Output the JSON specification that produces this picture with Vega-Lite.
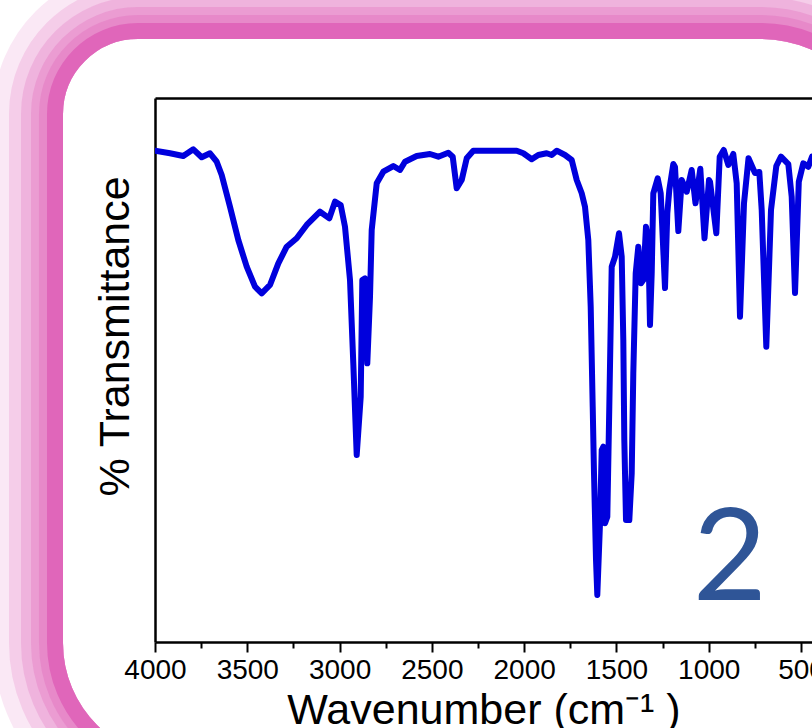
{
  "$schema": "https://vega.github.io/schema/vega-lite/v6.json",
  "width": 657,
  "height": 544,
  "autosize": "none",
  "padding": {"left": 155, "top": 98, "right": 0, "bottom": 86},
  "background": "white",
  "config": {"view": {"stroke": null}},
  "resolve": {"axis": {"x": "independent", "y": "independent"}},
  "layer": [
    {
      "data": {"values": [{}]},
      "mark": {"type": "rect", "filled": false, "stroke": "#E066BA", "strokeWidth": 70, "strokeOpacity": 0.15, "cornerRadiusTopLeft": 110, "cornerRadiusTopRight": 163, "cornerRadiusBottomLeft": 151, "cornerRadiusBottomRight": 135},
      "encoding": {
        "x": {"datum": 4688.1, "type": "quantitative", "scale": {"domain": [4000, 440.4], "nice": false, "zero": false}, "axis": null},
        "x2": {"datum": -161.0},
        "y": {"datum": 117.34, "type": "quantitative", "scale": {"domain": [-0.37, 100], "nice": false, "zero": false}, "axis": null},
        "y2": {"datum": -28.41}
      }
    },
    {
      "data": {"values": [{}]},
      "mark": {"type": "rect", "filled": false, "stroke": "#E066BA", "strokeWidth": 54, "strokeOpacity": 0.2, "cornerRadiusTopLeft": 102, "cornerRadiusTopRight": 155, "cornerRadiusBottomLeft": 143, "cornerRadiusBottomRight": 127},
      "encoding": {
        "x": {"datum": 4644.7, "type": "quantitative", "scale": {"domain": [4000, 440.4], "nice": false, "zero": false}, "axis": null},
        "x2": {"datum": -117.7},
        "y": {"datum": 115.87, "type": "quantitative", "scale": {"domain": [-0.37, 100], "nice": false, "zero": false}, "axis": null},
        "y2": {"datum": -26.94}
      }
    },
    {
      "data": {"values": [{}]},
      "mark": {"type": "rect", "filled": false, "stroke": "#E066BA", "strokeWidth": 42, "strokeOpacity": 0.25, "cornerRadiusTopLeft": 96, "cornerRadiusTopRight": 149, "cornerRadiusBottomLeft": 137, "cornerRadiusBottomRight": 121},
      "encoding": {
        "x": {"datum": 4612.2, "type": "quantitative", "scale": {"domain": [4000, 440.4], "nice": false, "zero": false}, "axis": null},
        "x2": {"datum": -85.2},
        "y": {"datum": 114.76, "type": "quantitative", "scale": {"domain": [-0.37, 100], "nice": false, "zero": false}, "axis": null},
        "y2": {"datum": -25.83}
      }
    },
    {
      "data": {"values": [{}]},
      "mark": {"type": "rect", "filled": false, "stroke": "#E066BA", "strokeWidth": 32, "strokeOpacity": 0.3, "cornerRadiusTopLeft": 91, "cornerRadiusTopRight": 144, "cornerRadiusBottomLeft": 132, "cornerRadiusBottomRight": 116},
      "encoding": {
        "x": {"datum": 4585.1, "type": "quantitative", "scale": {"domain": [4000, 440.4], "nice": false, "zero": false}, "axis": null},
        "x2": {"datum": -58.1},
        "y": {"datum": 113.84, "type": "quantitative", "scale": {"domain": [-0.37, 100], "nice": false, "zero": false}, "axis": null},
        "y2": {"datum": -24.91}
      }
    },
    {
      "data": {"values": [{}]},
      "mark": {"type": "rect", "filled": false, "stroke": "#E066BA", "strokeWidth": 24, "strokeOpacity": 0.35, "cornerRadiusTopLeft": 87, "cornerRadiusTopRight": 140, "cornerRadiusBottomLeft": 128, "cornerRadiusBottomRight": 112},
      "encoding": {
        "x": {"datum": 4563.5, "type": "quantitative", "scale": {"domain": [4000, 440.4], "nice": false, "zero": false}, "axis": null},
        "x2": {"datum": -36.4},
        "y": {"datum": 113.10, "type": "quantitative", "scale": {"domain": [-0.37, 100], "nice": false, "zero": false}, "axis": null},
        "y2": {"datum": -24.17}
      }
    },
    {
      "data": {"values": [{}]},
      "mark": {"type": "rect", "filled": false, "stroke": "#E066BA", "strokeWidth": 16, "strokeOpacity": 1, "cornerRadiusTopLeft": 83, "cornerRadiusTopRight": 136, "cornerRadiusBottomLeft": 124, "cornerRadiusBottomRight": 108},
      "encoding": {
        "x": {"datum": 4541.8, "type": "quantitative", "scale": {"domain": [4000, 440.4], "nice": false, "zero": false},
          "axis": {"orient": "top", "domain": true, "domainColor": "black", "domainWidth": 2.5, "ticks": false, "labels": false, "grid": false, "title": null}},
        "x2": {"datum": -14.7},
        "y": {"datum": 112.36, "type": "quantitative", "scale": {"domain": [-0.37, 100], "nice": false, "zero": false}, "axis": null},
        "y2": {"datum": -23.43}
      }
    },
    {
      "data": {"values": [
        {"wavenumber": 4000, "T": 90.28}, {"wavenumber": 3918.7, "T": 89.8}, {"wavenumber": 3846.7, "T": 89.3},
        {"wavenumber": 3792.5, "T": 90.53}, {"wavenumber": 3747.0, "T": 89.06}, {"wavenumber": 3702.0, "T": 89.8},
        {"wavenumber": 3665.7, "T": 88.25}, {"wavenumber": 3638.6, "T": 85.79}, {"wavenumber": 3593.7, "T": 79.94},
        {"wavenumber": 3548.7, "T": 73.8}, {"wavenumber": 3503.2, "T": 68.87}, {"wavenumber": 3458.2, "T": 65.18},
        {"wavenumber": 3421.9, "T": 63.97}, {"wavenumber": 3376.9, "T": 65.5}, {"wavenumber": 3331.9, "T": 69.5},
        {"wavenumber": 3286.4, "T": 72.56}, {"wavenumber": 3232.3, "T": 74.11}, {"wavenumber": 3178.1, "T": 76.57},
        {"wavenumber": 3106.0, "T": 79.02}, {"wavenumber": 3055.6, "T": 77.8}, {"wavenumber": 3024.8, "T": 80.87},
        {"wavenumber": 2993.9, "T": 80.26}, {"wavenumber": 2970.6, "T": 76.25}, {"wavenumber": 2943.5, "T": 66.42},
        {"wavenumber": 2925.6, "T": 51.05}, {"wavenumber": 2907.2, "T": 34.13}, {"wavenumber": 2885.5, "T": 44.89},
        {"wavenumber": 2876.8, "T": 66.42}, {"wavenumber": 2862.2, "T": 66.73}, {"wavenumber": 2849.8, "T": 51.05},
        {"wavenumber": 2835.1, "T": 63.34}, {"wavenumber": 2825.9, "T": 75.65}, {"wavenumber": 2798.8, "T": 84.26},
        {"wavenumber": 2763.1, "T": 86.4}, {"wavenumber": 2708.9, "T": 87.45}, {"wavenumber": 2672.6, "T": 86.72},
        {"wavenumber": 2645.5, "T": 88.25}, {"wavenumber": 2582.1, "T": 89.3}, {"wavenumber": 2510.1, "T": 89.67},
        {"wavenumber": 2465.1, "T": 89.17}, {"wavenumber": 2410.9, "T": 89.91}, {"wavenumber": 2387.1, "T": 89.17},
        {"wavenumber": 2365.4, "T": 83.34}, {"wavenumber": 2338.3, "T": 84.87}, {"wavenumber": 2311.2, "T": 88.87},
        {"wavenumber": 2275.5, "T": 90.28}, {"wavenumber": 2184.9, "T": 90.28}, {"wavenumber": 2040.3, "T": 90.28},
        {"wavenumber": 2004.5, "T": 89.8}, {"wavenumber": 1959.0, "T": 88.69}, {"wavenumber": 1923.3, "T": 89.48},
        {"wavenumber": 1877.8, "T": 89.8}, {"wavenumber": 1850.7, "T": 89.48}, {"wavenumber": 1823.6, "T": 90.28},
        {"wavenumber": 1778.6, "T": 89.48}, {"wavenumber": 1742.3, "T": 88.56}, {"wavenumber": 1715.2, "T": 84.87},
        {"wavenumber": 1688.1, "T": 82.42}, {"wavenumber": 1670.3, "T": 79.94}, {"wavenumber": 1652.4, "T": 73.8},
        {"wavenumber": 1639.4, "T": 61.49}, {"wavenumber": 1628.5, "T": 43.04}, {"wavenumber": 1621.5, "T": 30.76},
        {"wavenumber": 1610.6, "T": 14.76}, {"wavenumber": 1603.6, "T": 8.3}, {"wavenumber": 1589.0, "T": 21.53},
        {"wavenumber": 1579.8, "T": 35.06}, {"wavenumber": 1571.1, "T": 35.66}, {"wavenumber": 1561.9, "T": 21.53},
        {"wavenumber": 1549.4, "T": 22.75}, {"wavenumber": 1538.6, "T": 43.04}, {"wavenumber": 1525.6, "T": 68.87},
        {"wavenumber": 1507.7, "T": 70.72}, {"wavenumber": 1486.0, "T": 75.04}, {"wavenumber": 1471.4, "T": 70.72},
        {"wavenumber": 1462.7, "T": 55.35}, {"wavenumber": 1457.3, "T": 36.9}, {"wavenumber": 1448.1, "T": 22.14},
        {"wavenumber": 1430.2, "T": 22.14}, {"wavenumber": 1417.2, "T": 30.76}, {"wavenumber": 1408.6, "T": 49.21},
        {"wavenumber": 1395.6, "T": 67.66}, {"wavenumber": 1381.5, "T": 72.56}, {"wavenumber": 1366.9, "T": 65.81},
        {"wavenumber": 1354.4, "T": 66.42}, {"wavenumber": 1339.8, "T": 76.25}, {"wavenumber": 1327.3, "T": 73.8},
        {"wavenumber": 1318.1, "T": 58.12}, {"wavenumber": 1308.9, "T": 67.66}, {"wavenumber": 1300.2, "T": 82.42},
        {"wavenumber": 1276.4, "T": 85.18}, {"wavenumber": 1260.1, "T": 82.42}, {"wavenumber": 1236.8, "T": 64.94},
        {"wavenumber": 1224.3, "T": 78.73}, {"wavenumber": 1213.5, "T": 83.03}, {"wavenumber": 1191.8, "T": 87.82},
        {"wavenumber": 1182.6, "T": 87.27}, {"wavenumber": 1164.7, "T": 75.46}, {"wavenumber": 1146.3, "T": 84.87},
        {"wavenumber": 1119.2, "T": 82.71}, {"wavenumber": 1092.1, "T": 86.72}, {"wavenumber": 1071.6, "T": 80.57},
        {"wavenumber": 1045.5, "T": 86.94}, {"wavenumber": 1022.8, "T": 74.11}, {"wavenumber": 998.4, "T": 84.87},
        {"wavenumber": 993.0, "T": 84.56}, {"wavenumber": 958.8, "T": 75.04}, {"wavenumber": 940.4, "T": 89.17},
        {"wavenumber": 918.8, "T": 90.41}, {"wavenumber": 893.9, "T": 87.64}, {"wavenumber": 866.8, "T": 89.67},
        {"wavenumber": 848.4, "T": 84.26}, {"wavenumber": 830.5, "T": 59.65}, {"wavenumber": 808.8, "T": 80.57},
        {"wavenumber": 784.4, "T": 88.87}, {"wavenumber": 749.2, "T": 86.16}, {"wavenumber": 725.9, "T": 86.35},
        {"wavenumber": 712.9, "T": 79.34}, {"wavenumber": 688.0, "T": 54.11}, {"wavenumber": 662.5, "T": 79.34},
        {"wavenumber": 633.8, "T": 87.45}, {"wavenumber": 608.3, "T": 89.17}, {"wavenumber": 568.8, "T": 87.82},
        {"wavenumber": 550.4, "T": 81.79}, {"wavenumber": 532.4, "T": 64.02}, {"wavenumber": 511.9, "T": 84.56},
        {"wavenumber": 487.5, "T": 87.95}, {"wavenumber": 460.4, "T": 87.32}, {"wavenumber": 440.4, "T": 89.17}
      ]},
      "mark": {"type": "line", "color": "#0000DD", "strokeWidth": 6, "strokeJoin": "round", "strokeCap": "round", "clip": true},
      "encoding": {
        "x": {"field": "wavenumber", "type": "quantitative", "scale": {"domain": [4000, 440.4], "nice": false, "zero": false},
          "axis": {"orient": "bottom", "values": [4000, 3500, 3000, 2500, 2000, 1500, 1000, 500], "format": "d",
            "tickSize": 10, "tickWidth": 2, "tickColor": "black", "domainColor": "black", "domainWidth": 2.5,
            "labelFont": "Liberation Sans", "labelFontSize": 28, "labelColor": "black", "labelPadding": 4,
            "labelFlush": false, "labelOverlap": false, "grid": false,
            "title": "Wavenumber (cm⁻¹ )", "titleFont": "Liberation Sans", "titleFontSize": 43,
            "titleFontWeight": "normal", "titleColor": "black", "titleBaseline": "alphabetic", "titleY": 81}},
        "y": {"field": "T", "type": "quantitative", "scale": {"domain": [-0.37, 100], "nice": false, "zero": false},
          "axis": {"orient": "left", "ticks": false, "labels": false, "grid": false, "domainColor": "black", "domainWidth": 2.5,
            "title": "% Transmittance", "titleFont": "Liberation Sans", "titleFontSize": 43, "titleFontWeight": "normal",
            "titleColor": "black", "titleBaseline": "alphabetic", "titleX": -27, "titleY": 238}}
      }
    },
    {
      "data": {"values": [{"label": "2"}]},
      "mark": {"type": "text", "font": "Lato", "fontSize": 128, "color": "#2F5597", "align": "center", "baseline": "alphabetic"},
      "encoding": {
        "text": {"field": "label"},
        "x": {"datum": 885, "type": "quantitative", "scale": {"domain": [4000, 440.4], "nice": false, "zero": false},
          "axis": {"orient": "bottom", "values": [3750, 3250, 2750, 2250, 1750, 1250, 750], "tickSize": 6, "tickWidth": 2,
            "tickColor": "black", "labels": false, "domain": false, "grid": false, "title": null}},
        "y": {"datum": 7.38, "type": "quantitative", "scale": {"domain": [-0.37, 100], "nice": false, "zero": false}, "axis": null}
      }
    }
  ]
}
